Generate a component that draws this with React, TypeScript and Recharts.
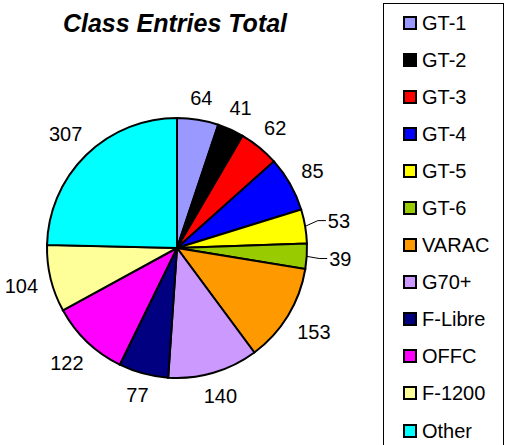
import { PieChart, Pie, Cell, Legend } from 'recharts'

const classes = ['GT-1', 'GT-2', 'GT-3', 'GT-4', 'GT-5', 'GT-6', 'VARAC', 'G70+', 'F-Libre', 'OFFC', 'F-1200', 'Other']
const entries = [64, 41, 62, 85, 53, 39, 153, 140, 77, 122, 104, 307]
const colors = ['#9999FF', '#000000', '#FF0000', '#0000FF', '#FFFF00', '#99CC00', '#FF9900', '#CC99FF', '#000080', '#FF00FF', '#FFFF99', '#00FFFF']

const data = classes.map((name, i) => ({ name, value: entries[i] }))

const FONT = '"Liberation Sans", Arial, sans-serif'
const RADIAN = Math.PI / 180
const LABEL_SIZE = 20

function renderLabel(props: any) {
    const { cx, cy, midAngle, outerRadius, value, percent, index } = props
    const cos = Math.cos(-midAngle * RADIAN)
    const sin = Math.sin(-midAngle * RADIAN)
    const halfW = (String(value).length * 0.556 * LABEL_SIZE) / 2
    const halfH = 8
    // small slices near the horizontal get pushed out with a leader line
    const leader = percent < 0.05 && Math.abs(cos) > 0.9
    const d = outerRadius + 12 + halfW * Math.abs(cos) + halfH * Math.abs(sin) + (leader ? 10 : 0)
    const x = cx + d * cos
    const y = cy + d * sin

    return (
        <g key={`label-${index}`}>
            {leader && (
                <polyline
                    points={`${cx + outerRadius * cos},${cy + outerRadius * sin} ${x - halfW - 10},${y} ${x - halfW - 2},${y}`}
                    fill="none"
                    stroke="#000"
                    strokeWidth={1}
                />
            )}
            <text
                x={x}
                y={y}
                textAnchor="middle"
                dominantBaseline="central"
                fontFamily={FONT}
                fontSize={LABEL_SIZE}
                fill="#000"
            >
                {value}
            </text>
        </g>
    )
}

function LegendBox({ payload }: any) {
    return (
        <div
            style={{
                width: 121,
                height: 445,
                border: '1px solid #000',
                boxSizing: 'border-box',
                background: '#fff',
            }}
        >
            {(payload || []).map((item: any) => (
                <div
                    key={item.value}
                    style={{ display: 'flex', alignItems: 'center', height: 37.1, marginLeft: 19 }}
                >
                    <span
                        style={{
                            width: 14,
                            height: 14,
                            boxSizing: 'border-box',
                            background: item.color,
                            border: '2px solid #000',
                            marginRight: 5,
                        }}
                    />
                    <span style={{ fontFamily: FONT, fontSize: 20, color: '#000', lineHeight: '20px' }}>
                        {item.value}
                    </span>
                </div>
            ))}
        </div>
    )
}

export default function App() {
    return (
        <div style={{ position: 'absolute', left: 0, top: 0, width: 508, height: 445, background: '#fff' }}>
            <div
                style={{
                    position: 'absolute',
                    left: 0,
                    width: 350,
                    top: 8,
                    textAlign: 'center',
                    fontFamily: FONT,
                    fontSize: 25,
                    fontWeight: 'bold',
                    fontStyle: 'italic',
                    lineHeight: '30px',
                    zIndex: 1,
                }}
            >
                Class Entries Total
            </div>
            <PieChart
                width={508}
                height={445}
                margin={{ top: 0, right: 0, bottom: 0, left: 0 }}
                style={{ position: 'absolute', left: 0, top: 0 }}
            >
                <Pie
                    data={data}
                    dataKey="value"
                    nameKey="name"
                    cx={177}
                    cy={248}
                    outerRadius={130}
                    startAngle={90}
                    endAngle={-270}
                    stroke="#000"
                    strokeWidth={2}
                    labelLine={false}
                    label={renderLabel}
                    isAnimationActive={false}
                >
                    {data.map((entry, i) => (
                        <Cell key={entry.name} fill={colors[i]} />
                    ))}
                </Pie>
                <Legend
                    content={<LegendBox />}
                    itemSorter={(item: any) => classes.indexOf(item.value)}
                    wrapperStyle={{ position: 'absolute', left: 383, top: 3, width: 121, height: 445 }}
                />
            </PieChart>
        </div>
    )
}
